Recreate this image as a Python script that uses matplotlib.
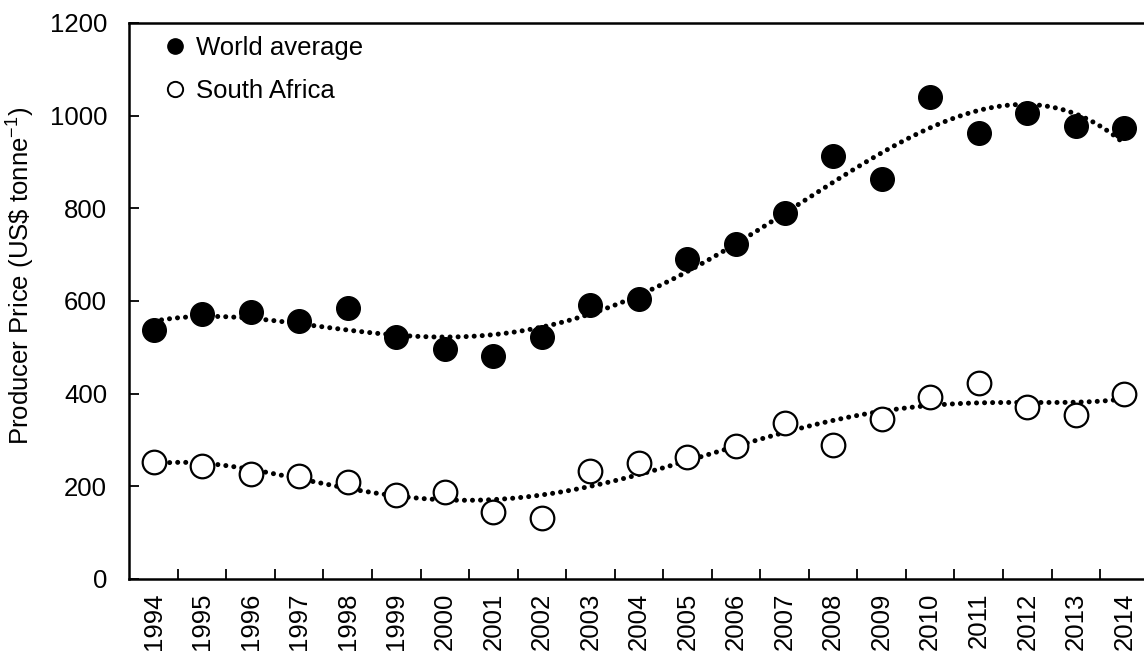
import numpy as np
import matplotlib
matplotlib.use("Agg")
import matplotlib.pyplot as plt
from matplotlib.lines import Line2D

plt.rcParams['font.family'] = ['Liberation Sans', 'DejaVu Sans']
plt.rcParams['mathtext.fontset'] = 'custom'
plt.rcParams['mathtext.rm'] = 'Liberation Sans'
plt.rcParams['mathtext.default'] = 'regular'

years = [str(y) for y in range(1994, 2015)]
world_avg = [537, 572, 576, 557, 584, 522, 496, 482, 522, 591, 604,
             690, 723, 791, 913, 863, 1041, 963, 1006, 978, 973]
south_africa = [253, 244, 226, 223, 210, 181, 187, 145, 131, 233, 250,
                264, 286, 336, 289, 345, 392, 422, 372, 355, 400]

FONT_SIZE = 18.5

fig = plt.figure(figsize=(11.44, 6.53), dpi=100)
ax = fig.add_axes([129.3 / 1144, 74 / 653, 1019.3 / 1144, 556 / 653])

x = np.arange(len(years))
xs = np.linspace(x[0], x[-1], 400)

# polynomial trend lines, dotted (order 4 for world, 6 for South Africa)
for vals, order in ((world_avg, 4), (south_africa, 6)):
    poly = np.polynomial.Polynomial.fit(x, vals, order)
    ax.plot(xs, poly(xs), color='black', lw=3.6,
            linestyle=(0, (0.01, 1.6)), dash_capstyle='round', zorder=2)

ax.plot(x, world_avg, 'o', ms=17, mfc='black', mec='black', zorder=3)
ax.plot(x, south_africa, 'o', ms=17, mfc='white', mec='black', mew=1.6, zorder=3)

ax.set_xlim(-0.5, len(years) - 0.5)
ax.set_ylim(0, 1200)
ax.set_yticks(range(0, 1201, 200))

ax.set_xticks(x)
ax.set_xticklabels(years, rotation=90, fontsize=FONT_SIZE)
ax.set_xticks(x[:-1] + 0.5, minor=True)
ax.tick_params(axis='x', which='major', length=0, pad=10)
ax.tick_params(axis='x', which='minor', direction='in', length=7, width=1.3)
ax.tick_params(axis='y', direction='in', length=7, width=1.3, labelsize=FONT_SIZE, pad=16)

for side in ('left', 'bottom', 'top', 'right'):
    ax.spines[side].set_linewidth(1.8)

ax.set_ylabel('Producer Price (US\\$ tonne$^{-1}$)', fontsize=FONT_SIZE)
ax.yaxis.set_label_coords(-0.0906, 0.545)

handles = [
    Line2D([], [], ls='none', marker='o', ms=11, mfc='black', mec='black'),
    Line2D([], [], ls='none', marker='o', ms=11, mfc='white', mec='black', mew=1.4),
]
ax.legend(handles, ['World average', 'South Africa'], loc='upper left',
          bbox_to_anchor=(0.015, 1.018), frameon=False, fontsize=FONT_SIZE,
          handlelength=0.6, handletextpad=0.5, labelspacing=0.72)

fig.savefig('out.png', dpi=100)
